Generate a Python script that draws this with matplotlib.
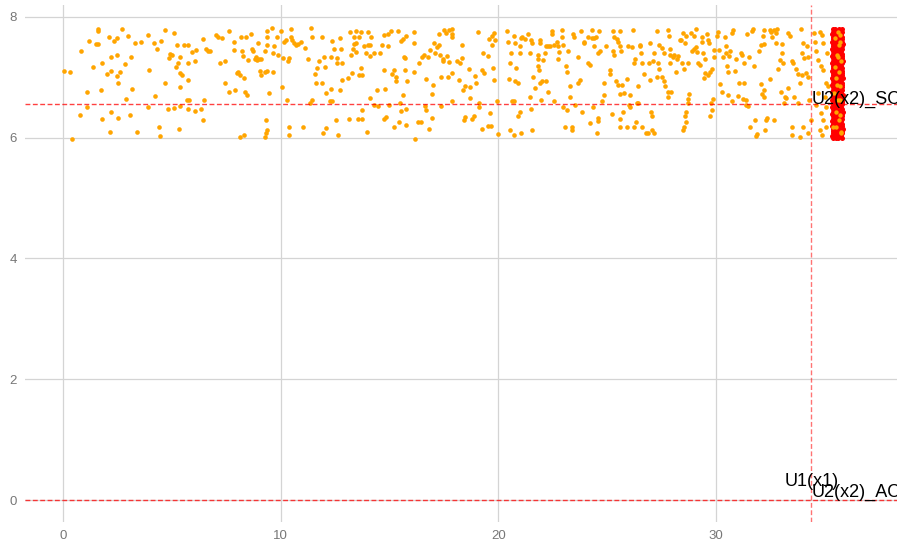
import numpy as np
import matplotlib
matplotlib.use("Agg")
import matplotlib.pyplot as plt

# ---------- data ----------
# scattered orange points (x, y)
orange_pts = [
    (0.06, 7.11), (0.31, 7.08), (0.40, 5.98), (0.83, 7.43), (1.10, 6.76), (1.10, 6.50), (0.77, 6.37),
    (1.21, 7.60), (1.39, 7.17), (1.50, 7.55), (1.59, 7.55), (1.62, 7.80), (1.62, 7.76), (1.73, 6.78),
    (1.78, 7.24), (1.78, 6.30), (2.01, 7.06), (2.10, 7.67), (2.14, 6.10), (2.19, 7.11), (2.19, 7.34),
    (2.19, 6.43), (2.34, 7.60), (2.48, 7.65), (2.48, 7.36), (2.48, 7.02), (2.53, 6.90), (2.53, 6.32),
    (2.62, 7.09), (2.71, 7.79), (2.85, 7.21), (2.89, 6.64), (3.00, 7.69), (3.09, 6.37), (3.14, 7.34),
    (3.19, 6.81), (3.32, 7.56), (3.38, 6.10), (3.57, 7.58), (3.89, 7.70), (3.91, 6.50), (3.95, 7.12),
    (4.18, 7.56), (4.23, 6.69), (4.32, 7.46), (4.41, 6.18), (4.47, 6.03), (4.50, 7.60), (4.70, 7.78),
    (4.70, 6.90), (4.84, 6.47), (4.89, 7.31), (4.93, 7.38), (5.02, 7.36), (5.08, 6.49), (5.11, 7.73),
    (5.18, 7.17), (5.22, 7.53), (5.27, 7.24), (5.31, 6.15), (5.36, 7.34), (5.36, 6.83), (5.36, 7.07),
    (5.38, 6.53), (5.45, 7.03), (5.54, 7.53), (5.70, 6.62), (5.73, 7.53), (5.74, 7.23), (5.76, 6.95),
    (5.79, 6.63), (5.74, 6.47), (5.93, 7.41), (6.06, 7.26), (6.08, 6.44), (6.13, 7.45), (6.36, 6.47),
    (6.42, 7.64), (6.42, 6.29), (6.48, 6.63),
    (6.58, 7.46), (6.67, 7.43), (6.73, 7.43), (7.03, 7.70), (7.10, 7.67), (7.19, 7.24), (7.29, 7.65),
    (7.44, 7.26), (7.44, 6.90), (7.62, 7.77), (7.62, 6.76), (7.87, 7.58), (7.87, 7.45), (7.91, 6.78),
    (7.99, 7.07), (8.05, 7.09), (8.11, 7.04), (8.14, 6.01), (8.17, 7.67), (8.24, 7.43), (8.25, 7.35),
    (8.30, 6.05), (8.33, 6.98), (8.34, 6.75), (8.40, 7.66), (8.43, 6.71), (8.48, 7.29), (8.62, 7.72),
    (8.68, 7.46), (8.74, 7.43), (8.82, 7.30), (8.86, 7.33), (8.91, 7.29), (8.97, 7.57), (9.02, 7.30),
    (9.06, 7.11), (9.09, 7.30), (9.08, 7.03), (9.26, 7.43), (9.37, 7.76), (9.37, 7.67), (9.37, 7.54),
    (9.29, 7.08), (9.37, 7.11), (9.48, 6.74), (9.38, 6.13), (9.32, 6.07), (9.28, 6.01), (9.32, 6.29),
    (9.58, 7.81), (9.63, 7.40), (9.64, 7.08), (9.71, 7.52), (9.84, 7.66), (9.87, 7.36), (10.01, 7.77),
    (10.04, 6.83), (10.09, 7.32), (10.15, 7.59), (10.26, 7.61), (10.29, 6.63), (10.36, 6.17), (10.36, 6.05),
    (10.39, 7.32), (10.35, 7.26), (10.46, 7.80), (10.47, 7.67), (10.53, 7.61), (10.62, 7.56), (10.72, 7.54),
    (10.81, 7.55), (10.93, 7.59), (11.01, 6.18), (11.11, 7.48), (11.27, 7.30), (11.41, 7.81), (11.45, 7.66),
    (11.42, 6.63), (11.34, 6.58), (11.56, 7.05), (11.60, 6.91), (11.67, 7.15), (11.76, 7.26), (11.88, 7.66),
    (11.88, 6.91), (11.97, 7.33), (12.03, 7.17), (12.06, 6.74), (11.96, 6.07), (12.08, 6.16), (12.31, 6.81),
    (12.31, 7.33), (12.25, 6.60), (12.34, 7.60), (12.37, 6.61), (12.43, 7.46), (12.52, 6.29), (12.60, 7.31),
    (12.57, 7.23), (12.65, 6.05), (12.72, 7.65), (12.77, 7.46), (12.74, 6.78), (12.80, 7.23), (12.83, 6.95),
    (13.11, 6.98), (13.14, 6.31), (13.18, 7.74), (13.29, 7.07), (13.35, 7.66), (13.35, 7.55), (13.33, 7.46),
    (13.23, 7.37),
    (13.46, 7.76), (13.46, 7.56), (13.46, 7.41), (13.59, 7.66), (13.69, 7.74), (13.69, 7.15), (13.59, 7.04),
    (13.75, 7.04), (13.81, 7.51), (13.99, 7.54), (14.08, 7.54), (14.13, 7.66), (13.99, 7.75), (13.90, 7.40),
    (14.10, 7.35), (14.11, 6.66), (14.27, 7.40), (13.75, 6.45), (13.56, 6.31), (13.72, 6.31), (13.95, 6.10),
    (14.27, 6.54), (14.42, 6.78), (14.45, 6.53), (14.54, 7.40), (14.64, 7.54), (14.76, 7.70), (14.76, 7.12),
    (14.79, 6.80), (14.82, 6.34), (14.76, 6.31), (14.91, 7.72), (14.94, 7.52), (14.99, 6.54), (15.06, 7.77),
    (15.13, 7.06), (15.19, 6.17), (15.22, 7.12), (15.31, 6.93), (15.28, 7.00), (15.37, 7.76), (15.43, 6.25),
    (15.48, 6.57), (15.52, 6.44), (15.51, 7.60), (15.60, 7.63), (15.66, 7.33), (15.71, 7.32), (15.62, 6.71),
    (15.71, 7.12), (15.74, 6.48), (15.75, 7.69), (15.81, 6.93), (15.74, 6.21), (16.14, 7.74), (16.14, 7.57),
    (16.14, 7.09), (16.18, 5.98), (16.35, 7.23), (16.32, 6.25), (16.47, 7.34), (16.43, 6.25), (16.56, 7.37),
    (16.61, 6.53), (16.69, 6.45), (16.69, 6.97), (16.76, 7.34), (16.83, 6.14), (16.84, 7.45), (16.95, 6.72),
    (16.98, 6.87), (16.95, 6.32), (17.05, 7.57), (17.09, 7.40), (17.19, 7.50), (17.27, 7.72), (17.31, 7.37),
    (17.28, 7.54), (17.35, 7.00), (17.36, 6.53), (17.45, 7.30), (17.47, 7.26), (17.51, 7.78), (17.58, 7.73),
    (17.62, 7.35), (17.67, 7.01), (17.73, 7.78), (17.85, 7.80), (17.88, 7.72), (17.85, 7.67), (17.73, 7.25),
    (17.85, 6.60), (17.85, 7.07), (18.10, 7.26), (18.19, 6.96), (18.25, 7.24), (18.31, 7.54), (18.34, 7.32),
    (18.46, 6.34), (18.43, 6.29), (18.37, 6.79), (18.48, 6.85), (18.68, 6.83), (18.69, 6.65), (18.65, 7.13),
    (18.77, 6.31), (18.86, 6.35), (18.92, 7.02), (18.95, 6.90), (19.08, 7.74), (19.12, 6.58), (19.12, 6.50),
    (19.23, 7.12), (19.26, 6.14), (19.29, 7.40), (19.35, 7.07), (19.50, 7.35), (19.57, 7.63), (19.61, 6.40),
    (19.54, 6.19), (19.66, 6.19), (19.69, 7.54), (19.72, 7.69), (19.75, 7.15), (19.81, 7.73), (19.78, 6.95),
    (19.84, 7.61), (19.93, 6.61), (19.96, 6.06),
    (20.38, 7.76), (20.45, 7.59), (20.53, 7.24), (20.48, 6.97), (20.58, 7.40), (20.70, 7.69), (20.76, 7.56),
    (20.79, 7.15), (20.76, 6.93), (20.91, 6.90), (20.97, 7.40), (20.99, 7.52), (21.04, 7.65), (20.61, 6.61),
    (20.70, 6.61), (20.55, 6.12), (20.73, 6.05), (20.88, 6.35), (21.00, 6.43), (21.04, 6.07), (21.10, 7.66),
    (21.22, 7.63), (21.37, 7.72), (21.46, 7.40), (21.49, 7.62), (21.46, 6.67), (21.49, 6.47), (21.53, 7.57),
    (21.59, 7.01), (21.53, 6.13), (21.68, 6.82), (21.80, 7.37), (21.83, 7.30), (21.80, 7.18), (21.86, 7.12),
    (21.89, 7.62), (21.89, 7.56), (21.92, 6.90), (22.02, 6.94), (21.98, 6.63), (22.06, 7.29), (22.14, 7.40),
    (22.20, 7.51), (22.17, 6.93), (22.29, 7.52), (22.29, 6.76), (22.38, 7.51), (22.44, 7.72), (22.47, 7.76),
    (22.57, 7.54), (22.57, 6.61), (22.67, 7.59), (22.75, 7.51), (22.72, 7.30), (22.78, 7.42), (22.90, 7.67),
    (22.93, 7.78), (22.99, 7.54), (22.96, 6.50), (23.06, 6.18), (23.09, 7.18), (23.13, 7.09), (23.15, 6.45),
    (23.21, 7.44), (23.29, 6.85), (23.30, 6.68), (23.41, 7.72), (23.49, 7.67), (23.36, 6.18), (23.36, 6.13),
    (23.52, 6.54), (23.64, 7.34), (23.67, 6.90), (23.76, 6.96), (23.79, 7.77), (23.85, 6.43), (23.93, 7.56),
    (23.91, 7.59), (24.10, 7.67), (24.10, 7.24), (24.19, 7.20), (24.21, 6.24), (24.28, 7.65), (24.31, 7.78),
    (24.34, 6.50), (24.37, 7.65), (24.40, 7.51), (24.47, 7.67), (24.56, 7.40), (24.53, 6.07), (24.59, 6.32),
    (24.59, 6.28), (24.62, 7.76), (24.65, 7.43), (24.74, 6.61), (24.83, 6.90), (24.86, 6.71), (24.96, 7.51),
    (25.11, 7.12), (25.14, 7.06), (25.20, 6.39), (25.28, 7.77), (25.28, 7.43), (25.29, 7.67), (25.32, 7.37),
    (25.38, 6.93), (25.45, 7.63), (25.51, 7.59), (25.57, 7.52), (25.60, 7.77), (25.63, 7.43), (25.51, 6.87),
    (25.57, 6.72), (25.60, 6.31), (25.58, 6.18), (25.66, 6.87), (25.72, 6.43), (25.78, 6.74), (25.89, 6.18),
    (25.90, 6.97), (25.97, 7.51), (26.00, 6.54), (26.03, 6.71), (26.06, 6.50), (26.12, 7.50), (26.18, 7.78),
    (26.21, 7.23), (26.21, 6.18), (26.27, 7.30), (26.30, 6.25), (26.39, 6.85), (26.36, 6.57), (26.43, 6.57),
    (26.49, 7.54), (26.52, 7.51), (26.55, 7.40), (26.58, 7.24), (26.58, 6.18), (26.67, 7.06), (26.76, 6.08),
    (26.85, 6.07), (26.92, 7.24), (26.98, 7.56), (26.95, 6.96), (27.01, 6.42), (27.04, 6.36), (27.07, 6.12),
    (27.10, 7.26), (27.13, 7.40), (27.16, 6.07),
    (27.27, 7.76), (27.40, 7.54), (27.31, 7.23), (27.37, 7.13), (27.27, 7.00), (27.50, 7.48), (27.59, 7.40),
    (27.53, 7.01), (27.62, 6.93), (27.65, 6.85), (27.77, 7.78), (27.83, 7.69), (27.89, 7.46), (27.86, 7.24),
    (27.80, 6.75), (27.93, 6.75), (27.80, 6.67), (27.88, 7.37), (28.03, 7.33), (28.08, 7.37), (28.14, 7.09),
    (28.20, 7.30), (28.26, 7.35), (28.32, 7.62), (28.38, 7.61), (28.42, 7.23), (28.48, 7.73), (28.54, 7.13),
    (28.57, 7.56), (28.63, 7.69), (28.69, 7.24), (28.57, 6.35), (28.60, 6.25), (28.54, 6.18), (28.48, 6.13),
    (28.60, 6.43), (28.72, 6.64), (28.72, 6.58), (28.75, 6.72), (28.84, 7.73), (28.90, 7.44), (28.97, 7.46),
    (29.00, 7.69), (29.06, 7.80), (29.09, 7.50), (29.12, 7.41), (29.18, 7.23), (29.24, 7.20), (29.33, 7.67),
    (29.36, 7.59), (29.40, 7.40), (29.49, 7.30), (29.49, 7.07), (29.46, 6.98), (29.64, 7.62), (29.67, 7.56),
    (29.70, 7.08), (29.61, 7.04), (29.58, 7.72), (29.79, 7.13), (29.89, 7.34), (29.92, 7.45), (29.87, 6.64),
    (29.76, 6.58), (29.79, 6.46), (29.73, 6.35), (30.04, 7.69), (30.10, 7.74), (30.13, 7.45), (30.19, 6.89),
    (30.25, 6.76), (30.31, 7.33), (30.41, 7.67), (30.44, 7.40), (30.47, 7.52), (30.50, 7.19), (30.53, 7.09),
    (30.59, 7.35), (30.56, 6.71), (30.65, 7.44), (30.71, 7.73), (30.74, 6.61), (30.77, 7.78), (30.87, 7.11),
    (30.93, 7.30), (31.02, 6.69), (31.05, 6.91), (31.14, 7.40), (31.17, 7.37), (31.23, 6.64), (31.26, 6.91),
    (31.29, 7.24), (31.36, 6.63), (31.39, 6.54), (31.42, 7.72), (31.48, 6.53), (31.51, 7.34), (31.54, 6.17),
    (31.63, 7.76), (31.69, 7.80), (31.72, 7.19), (31.78, 6.29), (31.85, 6.02), (31.88, 6.06), (31.97, 7.44),
    (32.06, 7.54), (32.06, 6.89), (32.12, 6.72), (32.15, 7.69), (32.18, 7.78), (32.21, 7.55), (32.18, 6.79),
    (32.18, 6.67), (32.24, 6.13), (32.30, 6.29), (32.34, 6.32), (32.46, 7.78), (32.49, 6.97), (32.52, 7.74),
    (32.58, 7.66), (32.64, 7.78), (32.67, 6.29), (32.73, 7.73), (32.76, 7.57), (32.79, 7.80), (32.86, 7.13),
    (32.92, 7.28), (32.98, 6.75), (33.01, 7.40), (33.04, 7.55), (33.07, 7.24), (33.13, 6.58), (33.16, 6.67),
    (33.19, 6.65), (33.29, 7.73), (33.32, 6.82), (33.41, 7.69), (33.47, 7.26), (33.47, 6.17), (33.47, 6.05),
    (33.53, 7.23), (33.59, 6.68), (33.65, 7.13), (33.74, 7.05), (33.77, 6.58), (33.84, 6.90), (33.90, 7.80),
    (33.93, 7.40), (33.96, 7.04), (33.99, 6.17), (33.87, 6.01), (34.02, 7.31),
    (34.00, 7.56), (34.16, 7.51), (34.23, 7.34), (34.13, 7.07), (34.23, 7.01), (34.28, 6.63), (34.23, 6.07),
    (34.34, 6.29), (34.49, 7.73), (34.54, 7.59), (34.61, 7.43), (34.68, 7.29), (34.77, 7.74), (34.86, 7.70),
    (34.92, 7.56), (34.80, 7.18), (34.92, 7.12), (35.07, 6.90), (34.98, 6.68), (35.15, 6.85), (34.84, 6.40),
    (34.92, 6.29), (34.77, 6.13), (34.86, 6.05), (35.07, 6.51), (34.61, 6.54), (34.69, 6.74), (35.04, 6.18),
    (35.10, 7.40),
]

# orange points sitting on top of the red band
orange_band_pts = [
    (35.62, 7.75), (35.69, 7.59), (35.54, 7.37), (35.46, 7.17), (35.66, 7.09), (35.57, 6.87), (35.42, 6.73),
    (35.69, 6.62), (35.51, 6.43), (35.63, 6.29), (35.38, 6.18), (35.72, 6.10), (35.46, 7.65),
    (35.69, 7.70), (35.61, 7.34), (35.76, 7.26), (35.53, 6.98),
    (35.69, 6.85), (35.61, 6.63), (35.69, 6.38), (35.53, 6.18),
    (35.76, 6.07), (35.66, 7.54),
]

# dense red cluster
red_y = [5.99, 6.03, 6.07, 6.11, 6.15, 6.19, 6.23, 6.27, 6.31, 6.35, 6.39, 6.43, 6.47, 6.51, 6.55, 6.59,
         6.63, 6.67, 6.71, 6.75, 6.79, 6.83, 6.87, 6.91, 6.95, 6.99, 7.03, 7.07, 7.11, 7.15, 7.19, 7.23,
         7.27, 7.31, 7.35, 7.39, 7.43, 7.47, 7.51, 7.55, 7.59, 7.63, 7.67, 7.71, 7.75, 7.79]
red_x_rows = [
    [35.36, 35.50, 35.62, 35.79], [35.34, 35.47, 35.64, 35.76], [35.37, 35.51, 35.61, 35.80],
    [35.35, 35.48, 35.65, 35.77], [35.38, 35.52, 35.63, 35.81], [35.33, 35.49, 35.60, 35.78],
    [35.36, 35.46, 35.66, 35.79], [35.34, 35.53, 35.62, 35.76], [35.37, 35.50, 35.64, 35.80],
    [35.35, 35.47, 35.61, 35.78], [35.33, 35.51, 35.65, 35.77], [35.38, 35.49, 35.63, 35.81],
    [35.36, 35.52, 35.60, 35.79], [35.34, 35.48, 35.66, 35.76], [35.37, 35.50, 35.62, 35.80],
    [35.35, 35.46, 35.64, 35.78], [35.33, 35.53, 35.61, 35.77], [35.38, 35.49, 35.65, 35.79],
    [35.36, 35.51, 35.63, 35.81], [35.34, 35.47, 35.60, 35.76], [35.37, 35.52, 35.66, 35.78],
    [35.35, 35.48, 35.62, 35.80], [35.33, 35.50, 35.64, 35.77], [35.38, 35.46, 35.61, 35.79],
    [35.36, 35.53, 35.65, 35.76], [35.34, 35.49, 35.63, 35.81], [35.37, 35.51, 35.60, 35.78],
    [35.35, 35.47, 35.66, 35.80], [35.33, 35.52, 35.62, 35.77], [35.38, 35.48, 35.64, 35.79],
    [35.36, 35.50, 35.61, 35.76], [35.34, 35.46, 35.65, 35.78], [35.37, 35.53, 35.63, 35.81],
    [35.35, 35.49, 35.60, 35.79], [35.33, 35.51, 35.66, 35.77], [35.38, 35.47, 35.62, 35.80],
    [35.36, 35.52, 35.64, 35.76], [35.34, 35.48, 35.61, 35.78], [35.37, 35.50, 35.65, 35.79],
    [35.35, 35.46, 35.63, 35.81], [35.33, 35.53, 35.60, 35.77], [35.38, 35.49, 35.66, 35.80],
    [35.36, 35.51, 35.62, 35.78], [35.34, 35.47, 35.64, 35.76], [35.37, 35.52, 35.61, 35.79],
    [35.35, 35.48, 35.65, 35.78],
]

# reference lines and labels
h_lines = [6.55, 0.0]
v_line = 34.38
labels = [("U2(x2)_SC", 34.38, 6.64, "left"),
          ("U1(x1)", 34.38, 0.31, "center"),
          ("U2(x2)_AC", 34.38, 0.12, "left")]
x_ticks = [0, 10, 20, 30]
y_ticks = [0, 2, 4, 6, 8]

# ---------- build arrays ----------
ox, oy = np.array(orange_pts).T
bx, by = np.array(orange_band_pts).T
rx = np.array([x for row in red_x_rows for x in row])
ry = np.array([y for y, row in zip(red_y, red_x_rows) for _ in row])

# ---------- plot ----------
fig = plt.figure(figsize=(8.97, 5.5), dpi=100)
ax = fig.add_axes([25 / 897, 28 / 550, 1 - 25 / 897, 517 / 550])

ax.scatter(ox, oy, s=11, color="#FFA500", linewidths=0, zorder=2)
ax.scatter(rx, ry, s=13, color="#FF0000", linewidths=0, zorder=2)
ax.scatter(bx, by, s=10, color="#FFA500", linewidths=0, zorder=2)

for y in h_lines:
    ax.axhline(y, color="#FF0000", alpha=0.75, lw=1, linestyle=(0, (3.5, 1.8)), zorder=3)
ax.axvline(v_line, color="#FF0000", alpha=0.55, lw=1, linestyle=(0, (3.5, 1.8)), zorder=3)

for txt, x, y, ha in labels:
    ax.text(x, y, txt, ha=ha, va="center", fontsize=13, color="black",
            family="Liberation Sans", zorder=4, clip_on=False)

ax.set_xlim(-1.745, 38.31)
ax.set_ylim(-0.364, 8.195)
ax.set_xticks(x_ticks)
ax.set_yticks(y_ticks)
ax.grid(True, color="#D4D4D4", lw=0.9)
ax.set_axisbelow(True)
for sp in ax.spines.values():
    sp.set_visible(False)
ax.tick_params(length=0, labelsize=9.5, labelcolor="#777777", pad=6)
for lab in ax.get_xticklabels() + ax.get_yticklabels():
    lab.set_family("Liberation Sans")

fig.savefig("out.png", dpi=100)
